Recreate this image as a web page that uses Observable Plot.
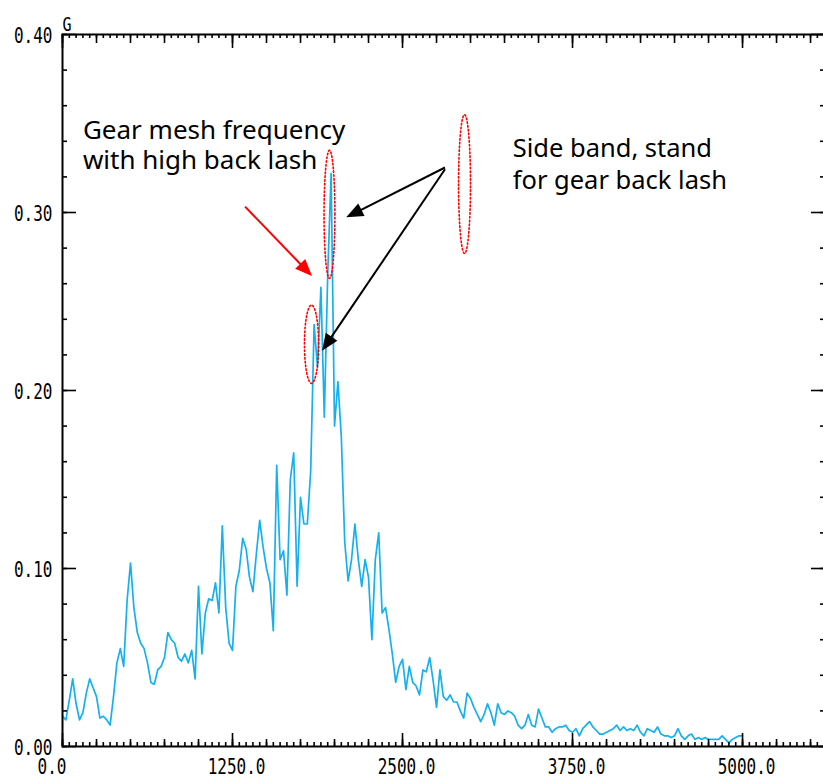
<!DOCTYPE html>
<html>
<head>
<meta charset="utf-8">
<script src="https://cdn.jsdelivr.net/npm/d3@7"></script>
<script src="https://cdn.jsdelivr.net/npm/@observablehq/plot@0.6"></script>
<style>
  html, body { margin: 0; padding: 0; background: #ffffff; overflow: hidden; }
  #chart svg { display: block; max-width: none !important; }
</style>
</head>
<body>
<div id="chart"></div>
<script>
// Spectrum amplitude (G) sampled every 25 Hz from 0 to 5000 Hz
const freqStep = 25;
const amplitude = [
  0.017, 0.015, 0.026, 0.038, 0.024, 0.015, 0.019, 0.030, 0.038, 0.033,
  0.028, 0.016, 0.017, 0.015, 0.012, 0.028, 0.047, 0.055, 0.045, 0.082,
  0.103, 0.078, 0.064, 0.058, 0.055, 0.047, 0.036, 0.035, 0.043, 0.045,
  0.050, 0.064, 0.060, 0.058, 0.050, 0.048, 0.052, 0.047, 0.054, 0.038,
  0.090, 0.052, 0.075, 0.083, 0.082, 0.092, 0.075, 0.124, 0.078, 0.058,
  0.054, 0.090, 0.099, 0.117, 0.111, 0.095, 0.087, 0.108, 0.127, 0.112,
  0.100, 0.092, 0.065, 0.158, 0.105, 0.110, 0.085, 0.150, 0.165, 0.090,
  0.140, 0.125, 0.125, 0.155, 0.237, 0.213, 0.258, 0.185, 0.265, 0.322,
  0.180, 0.205, 0.174, 0.115, 0.093, 0.105, 0.125, 0.105, 0.090, 0.105,
  0.095, 0.060, 0.105, 0.120, 0.075, 0.078, 0.066, 0.052, 0.036, 0.045,
  0.049, 0.032, 0.045, 0.036, 0.034, 0.029, 0.043, 0.042, 0.050, 0.037,
  0.022, 0.043, 0.028, 0.026, 0.029, 0.025, 0.025, 0.020, 0.016, 0.030,
  0.027, 0.022, 0.018, 0.014, 0.018, 0.024, 0.019, 0.012, 0.024, 0.019,
  0.018, 0.020, 0.019, 0.017, 0.012, 0.010, 0.012, 0.018, 0.012, 0.011,
  0.021, 0.016, 0.011, 0.011, 0.008, 0.010, 0.011, 0.011, 0.012, 0.009,
  0.008, 0.010, 0.006, 0.010, 0.012, 0.014, 0.011, 0.009, 0.007, 0.007,
  0.008, 0.009, 0.010, 0.012, 0.009, 0.011, 0.009, 0.010, 0.009, 0.012,
  0.008, 0.006, 0.010, 0.009, 0.008, 0.011, 0.007, 0.006, 0.006, 0.005,
  0.006, 0.010, 0.006, 0.004, 0.006, 0.007, 0.004, 0.005, 0.004, 0.005,
  0.004, 0.004, 0.004, 0.004, 0.006, 0.004, 0.002, 0.004, 0.005, 0.006,
  0.006
];

const xLabelTicks = [0, 1250, 2500, 3750, 5000];
const yLabelTicks = [0, 0.1, 0.2, 0.3, 0.4];
const yUnit = "G";

// Annotations (data coordinates: Hz, G)
const textLeft = ["Gear mesh frequency", "with high back lash"];
const textLeftPos = [[150, 0.346], [150, 0.329]];
const textRight = ["Side band, stand", "for gear back lash"];
const textRightPos = [[3310, 0.336], [3310, 0.318]];
// [f1, g1, f2, g2, color]
const arrows = [
  [1346, 0.303, 1838, 0.264, "#ff0000"],
  [2816, 0.325, 2090, 0.297, "#000000"],
  [2816, 0.324, 1912, 0.222, "#000000"]
];
// [centerF, centerG, radiusF, radiusG]
const ellipses = [
  [1963, 0.299, 40, 0.036],
  [1831, 0.226, 52, 0.022],
  [2956, 0.316, 44, 0.039]
];

const data = amplitude.map((g, i) => ({f: i * freqStep, g}));

const W = 830, H = 782, mL = 62, mT = 34, mR = 5, mB = 36;
const innerH = H - mT - mB, innerW = W - mL - mR;

const xMinor = d3.range(0, 5601, 50);
const xMedium = d3.range(0, 5601, 250);
const yMinor = d3.range(0, 0.4001, 0.02);

const ellipsePts = ellipses.map(([cf, cg, rf, rg], k) =>
  d3.range(0, 73).map(j => {
    const t = (j / 72) * 2 * Math.PI;
    return {k, f: cf + rf * Math.cos(t), g: cg + rg * Math.sin(t)};
  })
).flat();

const monoFont = "'DejaVu Sans Mono', 'Liberation Mono', monospace";
const annFont = "'Noto Sans', sans-serif";

const chart = Plot.plot({
  width: W,
  height: H,
  marginLeft: mL,
  marginTop: mT,
  marginRight: mR,
  marginBottom: mB,
  x: {domain: [0, 5610], axis: null},
  y: {domain: [0, 0.4], axis: null},
  style: {background: "#ffffff", fontFamily: monoFont, overflow: "visible", maxWidth: "none"},
  marks: [
    // spectrum
    Plot.line(data, {x: "f", y: "g", stroke: "#14b1ee", strokeWidth: 1.7}),
    // ellipses
    Plot.line(ellipsePts, {x: "f", y: "g", z: "k", stroke: "#ff0000", strokeWidth: 1.6, strokeDasharray: "1.6,2.2"}),
    // frame
    Plot.frame({stroke: "#000", strokeWidth: 2}),
    // bottom ticks
    Plot.tickX(xMinor, {x: d => d, stroke: "#000", strokeWidth: 1.6, insetTop: innerH - 4}),
    Plot.tickX(xMedium, {x: d => d, stroke: "#000", strokeWidth: 1.6, insetTop: innerH - 7}),
    Plot.tickX(xLabelTicks, {x: d => d, stroke: "#000", strokeWidth: 1.6, insetTop: innerH - 13}),
    // top ticks
    Plot.tickX(xMinor, {x: d => d, stroke: "#000", strokeWidth: 1.6, insetBottom: innerH - 4}),
    Plot.tickX(xMedium, {x: d => d, stroke: "#000", strokeWidth: 1.6, insetBottom: innerH - 9}),
    Plot.tickX(xLabelTicks, {x: d => d, stroke: "#000", strokeWidth: 1.6, insetBottom: innerH - 14}),
    // left ticks
    Plot.tickY(yMinor, {y: d => d, stroke: "#000", strokeWidth: 1.6, insetRight: innerW - 5}),
    Plot.tickY(yLabelTicks, {y: d => d, stroke: "#000", strokeWidth: 1.6, insetRight: innerW - 14}),
    // right ticks
    Plot.tickY(yMinor, {y: d => d, stroke: "#000", strokeWidth: 1.6, insetLeft: innerW - 5}),
    Plot.tickY(yLabelTicks, {y: d => d, stroke: "#000", strokeWidth: 1.6, insetLeft: innerW - 14}),
    // y labels
    Plot.text(yLabelTicks, {y: d => d, text: d => d.toFixed(2), frameAnchor: "left", textAnchor: "end", dx: -10, dy: 2, fontSize: 16, fill: "#000", className: "tall"}),
    // x labels
    Plot.text(xLabelTicks.slice(0, 1), {x: d => d, text: d => d.toFixed(1), frameAnchor: "bottom", textAnchor: "end", dx: 4, dy: 26, fontSize: 16, fill: "#000", className: "tall"}),
    Plot.text(xLabelTicks.slice(1), {x: d => d, text: d => d.toFixed(1), frameAnchor: "bottom", dx: 4, dy: 26, fontSize: 16, fill: "#000", className: "tall"}),
    // unit
    Plot.text([yUnit], {text: d => d, frameAnchor: "top-left", textAnchor: "start", dx: 0, dy: -16, fontSize: 15, fill: "#000", className: "tall"}),
    // annotation text
    Plot.text(textLeft, {x: (d, i) => textLeftPos[i][0], y: (d, i) => textLeftPos[i][1], text: d => d, textAnchor: "start", fontSize: 26, fontFamily: annFont, fill: "#000"}),
    Plot.text(textRight, {x: (d, i) => textRightPos[i][0], y: (d, i) => textRightPos[i][1], text: d => d, textAnchor: "start", fontSize: 25.5, fontFamily: annFont, fill: "#000"})
  ]
});

document.getElementById("chart").appendChild(chart);

// stretch the bitmap-like monospace tick labels vertically around their own centre
d3.select(chart).selectAll(".tall text").each(function () {
  const b = this.getBBox();
  const cx = b.x + b.width / 2, cy = b.y + b.height / 2;
  const t = this.getAttribute("transform") || "";
  this.setAttribute("transform", `${t} translate(${cx},${cy}) scale(1,1.28) translate(${-cx},${-cy})`);
});

// arrows with filled heads, positioned through the chart's own scales
const sx = chart.scale("x"), sy = chart.scale("y");
const gA = d3.select(chart).append("g").attr("class", "arrows");
arrows.forEach(([f1, g1, f2, g2, color]) => {
  const x1 = sx.apply(f1), y1 = sy.apply(g1), x2 = sx.apply(f2), y2 = sy.apply(g2);
  const dx = x2 - x1, dy = y2 - y1, len = Math.hypot(dx, dy);
  const ux = dx / len, uy = dy / len;
  const L = 17, Wd = 14;
  const bx = x2 - ux * L, by = y2 - uy * L;
  gA.append("line").attr("x1", x1).attr("y1", y1).attr("x2", bx + ux * 2).attr("y2", by + uy * 2)
    .attr("stroke", color).attr("stroke-width", 2);
  const nx = -uy, ny = ux;
  gA.append("polygon")
    .attr("points", [[x2, y2], [bx + nx * Wd / 2, by + ny * Wd / 2], [bx - nx * Wd / 2, by - ny * Wd / 2]].map(p => p.join(",")).join(" "))
    .attr("fill", color);
});
</script>
</body>
</html>
